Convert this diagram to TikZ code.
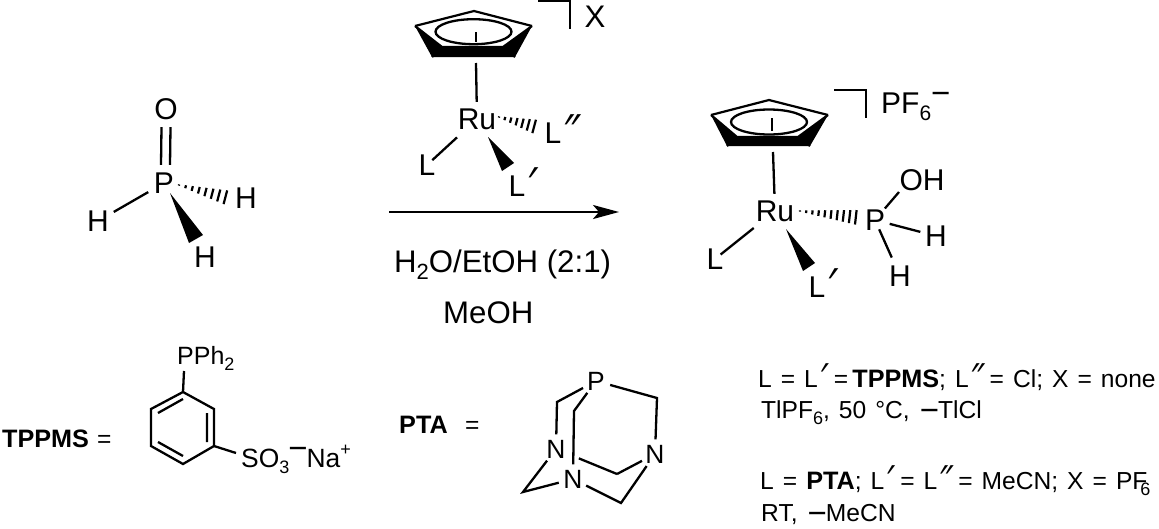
\documentclass[tikz,border=0pt]{standalone}
\usepackage{fontspec}
\setmainfont{Liberation Sans}
\newfontfamily\primefont[FakeSlant=0.45,Scale=1.35]{Liberation Sans}
\usetikzlibrary{calc,arrows.meta}
\newcommand{\fbig}{\fontsize{30}{30}\selectfont}
\newcommand{\fcond}{\fontsize{31.2}{31.2}\selectfont}
\newcommand{\fmid}{\fontsize{26.4}{26.4}\selectfont}
\newcommand{\fleg}{\fontsize{24.6}{24.6}\selectfont\spaceskip=9pt\relax}
\newcommand{\fbold}[1]{{\fontsize{25.2}{25.2}\selectfont\textbf{#1}}}
\newcommand{\sbs}[2][20]{\raisebox{-.25em}{\fontsize{#1}{#1}\selectfont #2}}
\newcommand{\sps}[2][20]{\raisebox{.42em}{\fontsize{#1}{#1}\selectfont #2}}
\newcommand{\Pone}{\rlap{\kern-.2em\raisebox{.02em}{\primefont ′}}}
\newcommand{\Ptwo}{\rlap{\kern-.2em\raisebox{.02em}{\primefont ″}}}
\newcommand{\lmin}{\kern1pt\raisebox{-3pt}{\fontsize{33}{33}\selectfont −}\kern-1pt}
\newcommand{\umin}[1]{\raisebox{#1}{\fontsize{33}{33}\selectfont −}}
\newcommand{\hashbond}[3]{%
  \foreach \i in {0,...,#3} {%
    \pgfmathsetmacro{\t}{\i/#3}%
    \pgfmathsetmacro{\hw}{0.6+\t*7.4}%
    \draw[hashline] ($(#1)!\t!(#2)!\hw pt!90:(#2)$) -- ($(#1)!\t!(#2)!\hw pt!-90:(#2)$);
  }}
\newcommand{\cpring}[1]{% #1 prefix of the named ring coordinates
  \fill ($(#1l)$) -- ($(#1bl)$) -- ($(#1br)$) -- ($(#1r)$) -- ($(#1ir)$) -- ($(#1il)$) -- cycle;
  \draw[cpedge] (#1l) -- (#1t) -- (#1r);
  \draw[cpedge] (#1l) -- (#1il) -- (#1ir) -- (#1r);
  \draw[cpedge] (#1bl) -- (#1il) (#1br) -- (#1ir);
}
\tikzset{
  bond/.style={line width=2.3pt},
  hashline/.style={line width=2.2pt},
  cpedge/.style={line width=2.2pt, line join=miter},
  brk/.style={line width=2.4pt},
  atom/.style={circle, inner sep=0pt, minimum size=36pt, font=\fbig},
  ruatom/.style={circle, inner sep=0pt, minimum size=54pt, font=\fbig},
  smallatom/.style={circle, inner sep=0pt, minimum size=29pt, font=\fmid},
  lab/.style={inner sep=0pt, anchor=base west, font=\fmid},
  leglab/.style={inner sep=0pt, anchor=base west, font=\fleg},
  biglab/.style={inner sep=0pt, anchor=base west, font=\fbig},
  condlab/.style={inner sep=0pt, anchor=base west, font=\fcond},
  tolab/.style={shorten >=-11pt},
  tocp/.style={shorten >=-10pt},
}
\begin{document}
\begin{tikzpicture}[x=1pt,y=-1pt]
\useasboundingbox (0,0) rectangle (1159,528);
% --- phosphine oxide tautomer
\node[atom] (O1) at (166,109) {O};
\node[atom] (P1) at (164,183) {P};
\node[atom] (H1) at (98,221) {H};
\node[atom] (H2) at (246,198) {H};
\node[atom] (H3) at (205,257) {H};
\draw[bond] ([xshift=-4.5pt]O1.south) -- ([xshift=-3pt]P1.north);
\draw[bond] ([xshift=4.5pt]O1.south) -- ([xshift=6pt]P1.north);
\draw[bond] (P1) -- (H1);
\coordinate (h1a) at (179,185);
\coordinate (h1b) at (232,199);
\hashbond{h1a}{h1b}{8}
\coordinate (w1) at (170,193);
\coordinate (w2) at (189,243);
\coordinate (w3) at (203,235);
\fill (w1) -- (w2) -- (w3) -- cycle;
% --- reagent Cp
\coordinate (al) at (415,26); \coordinate (at) at (474,11); \coordinate (ar) at (532,26);
\coordinate (abl) at (432,57); \coordinate (abr) at (515,57);
\coordinate (ail) at (442,47); \coordinate (air) at (503,47);
\cpring{a}
\fill[white] (473.5,31.7) ellipse [x radius=38, y radius=12.5];
\draw[bond] (473.5,31.7) ellipse [x radius=38, y radius=12.5];
\coordinate (ac1) at (476,32); \coordinate (ac2) at (476,42);
\draw[bond] (ac1) -- (ac2);
\coordinate (acb) at (476,63);
\node[ruatom] (Ru1) at (477,119) {Ru};
\draw[bond, tocp] (acb) -- (Ru1);
\node[atom] (L1) at (427,165) {L};
\draw[bond, tolab] (Ru1) -- (L1);
\node[atom] (L2) at (517,182) {L\Pone};
\coordinate (w4) at (488,137);
\coordinate (w5) at (502,171);
\coordinate (w6) at (514,163);
\fill (w4) -- (w5) -- (w6) -- cycle;
\node[atom] (L3) at (553,129) {L\Ptwo};
\coordinate (h2a) at (499,117);
\coordinate (h2b) at (540,128);
\hashbond{h2a}{h2b}{7}
\coordinate (b1a) at (538,1); \coordinate (b1b) at (570,1); \coordinate (b1c) at (570,29);
\draw[brk] (b1a) -- (b1b) -- (b1c);
\node[atom, font=\fcond] (X1) at (595,17) {X};
% --- arrow
\coordinate (ar1) at (389,212);
\coordinate (ar2) at (619,212);
\draw[bond, -{Stealth[length=26pt,width=14pt,inset=6pt]}] (ar1) -- (ar2);
\node[condlab] (cond1) at (394,272) {H\sbs[22]{2}O/EtOH (2:1)};
\node[condlab] (cond2) at (443,323) {MeOH};
% --- product Cp
\coordinate (bl) at (711,115); \coordinate (bt) at (769,100); \coordinate (br) at (828,115);
\coordinate (bbl) at (727,146); \coordinate (bbr) at (810,146);
\coordinate (bil) at (737,137); \coordinate (bir) at (798,137);
\cpring{b}
\fill[white] (769,122) ellipse [x radius=38, y radius=12.5];
\draw[bond] (769,122) ellipse [x radius=38, y radius=12.5];
\coordinate (bc1) at (772,118); \coordinate (bc2) at (772,131);
\draw[bond] (bc1) -- (bc2);
\coordinate (bcb) at (773,152);
\node[ruatom] (Ru2) at (775,211) {Ru};
\draw[bond, tocp] (bcb) -- (Ru2);
\node[atom] (L4) at (715,259) {L};
\draw[bond, tolab] (Ru2) -- (L4);
\node[atom] (L5) at (817,283) {L\Pone};
\coordinate (w7) at (786,229);
\coordinate (w8) at (803,271);
\coordinate (w9) at (815,263);
\fill (w7) -- (w8) -- (w9) -- cycle;
\node[atom, minimum size=30pt] (P2) at (875,220) {P};
\node[biglab, anchor=center] (OH) at (922,180) {OH};
\node[atom, minimum size=32pt] (H4) at (936,236) {H};
\node[atom, minimum size=40pt] (H5) at (900,276) {H};
\coordinate (oha) at (899,192);
\draw[bond] (P2) -- (oha);
\draw[bond] (P2) -- (H4);
\draw[bond, shorten <=-5pt] (P2) -- (H5);
\coordinate (h3a) at (800,211);
\coordinate (h3b) at (862,218);
\hashbond{h3a}{h3b}{10}
\coordinate (b2a) at (834,90); \coordinate (b2b) at (866,90); \coordinate (b2c) at (866,118);
\draw[brk] (b2a) -- (b2b) -- (b2c);
\node[biglab] (pf6) at (881,113) {PF\sbs[21]{6}\umin{9pt}};
% --- TPPMS
\node[lab] (tp) at (2,447) {\fbold{TPPMS}};
\node[leglab] (tpeq) at (97,447) {=};
\coordinate (r1) at (183,392); \coordinate (r2) at (214,409); \coordinate (r3) at (214,446);
\coordinate (r4) at (183,464); \coordinate (r5) at (151,446); \coordinate (r6) at (151,409);
\draw[bond, line join=miter] (r1) -- (r2) -- (r3) -- (r4) -- (r5) -- (r6) -- cycle;
\coordinate (d1) at (158,413); \coordinate (d2) at (183,399);
\coordinate (d3) at (207,413); \coordinate (d4) at (207,442);
\coordinate (d5) at (158,442); \coordinate (d6) at (183,456);
\draw[bond] (d1) -- (d2) (d3) -- (d4) (d5) -- (d6);
\node[lab, font=\fontsize{25}{25}\selectfont] (pph) at (177,364) {PPh\sbs[18]{2}};
\node[lab] (so3) at (241,467) {SO\sbs[18]{3}\kern-1pt\umin{8pt}\kern-1pt Na\sps[18]{+}};
\coordinate (pb) at (184,371);
\coordinate (sb) at (236,453);
\draw[bond] (r1) -- (pb);
\draw[bond] (r3) -- (sb);
% --- PTA
\node[lab] (pt) at (399,433) {\fbold{PTA}};
\node[leglab] (pteq) at (465,433) {=};
\node[smallatom] (PP) at (596,381) {P};
\node[smallatom] (N1) at (556,449) {N};
\node[smallatom] (N2) at (655,454) {N};
\node[smallatom] (N3) at (573,479) {N};
\coordinate (ca) at (557,402);
\coordinate (cb) at (574,411);
\coordinate (cc) at (657,398);
\coordinate (cd) at (617,474);
\coordinate (ce) at (621,503);
\coordinate (cf) at (523,492);
\draw[bond, line join=miter] (PP) -- (ca) -- (N1);
\draw[bond, line join=miter] (PP) -- (cb) -- (N3);
\draw[bond, line join=miter] (PP) -- (cc) -- (N2);
\draw[bond, line join=miter] (N1) -- (cf) -- (N3);
\draw[bond, shorten <=10pt, line join=miter] (N1) -- (cd);
\draw[bond] (cd) -- (N2);
\draw[bond, line join=miter] (N3) -- (ce) -- (N2);
% --- legend
\node[leglab] (t1) at (758,387) {L = L\Pone\kern7pt\ =\,\fbold{TPPMS}; L\Ptwo\kern12pt\ = Cl; X = none};
\node[leglab] (t2) at (761,418) {TlPF\sbs[18]{6}, 50 °C, \lmin TlCl};
\node[leglab] (t3) at (760,489) {L = \fbold{PTA}; L\Pone\kern7pt\ = L\Ptwo\kern12pt\ = MeCN; X = PF\llap{\sbs[18]{6}\kern-3pt}};
\node[leglab] (t4) at (761,521) {RT, \lmin MeCN};
\end{tikzpicture}
\end{document}
